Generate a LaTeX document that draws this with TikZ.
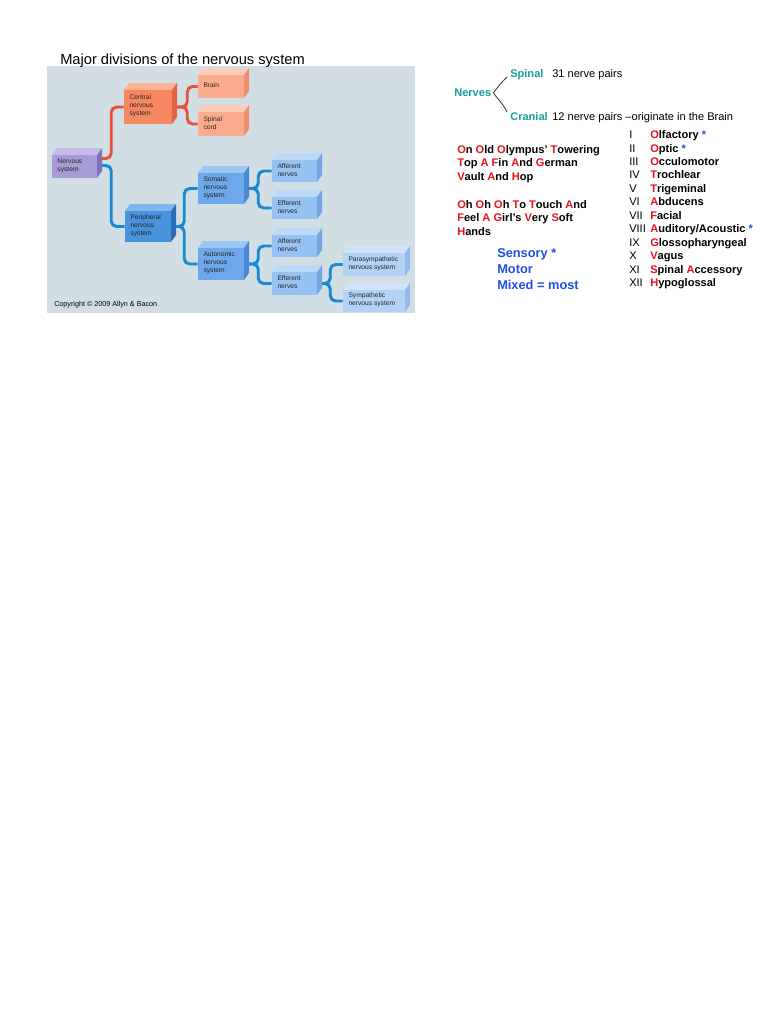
\documentclass[tikz,border=0pt]{standalone}
\usepackage{fontspec}
\setmainfont{Liberation Sans}
\usetikzlibrary{calc}
\pgfdeclarelayer{panel}
\pgfdeclarelayer{wires}
\pgfsetlayers{panel,wires,main}
\definecolor{panelbg}{RGB}{209,222,228}
\definecolor{redline}{RGB}{232,80,58}
\definecolor{blueline}{RGB}{24,136,214}
\definecolor{nvfront}{RGB}{168,156,214}\definecolor{nvtop}{RGB}{196,187,232}\definecolor{nvside}{RGB}{128,112,184}
\definecolor{cnfront}{RGB}{247,135,96}\definecolor{cntop}{RGB}{251,178,150}\definecolor{cnside}{RGB}{226,102,66}
\definecolor{brfront}{RGB}{251,172,142}\definecolor{brtop}{RGB}{253,204,184}\definecolor{brside}{RGB}{238,142,110}
\definecolor{pnfront}{RGB}{72,146,222}\definecolor{pntop}{RGB}{128,182,238}\definecolor{pnside}{RGB}{40,108,186}
\definecolor{sofront}{RGB}{108,168,234}\definecolor{sotop}{RGB}{156,198,244}\definecolor{soside}{RGB}{72,138,212}
\definecolor{affront}{RGB}{150,194,243}\definecolor{aftop}{RGB}{190,216,248}\definecolor{afside}{RGB}{116,166,226}
\definecolor{pafront}{RGB}{180,210,246}\definecolor{patop}{RGB}{208,227,250}\definecolor{paside}{RGB}{146,186,236}
\definecolor{tealtxt}{RGB}{26,158,158}
\definecolor{mnred}{RGB}{232,18,28}
\definecolor{mnblue}{RGB}{30,80,232}
\newcommand\R[1]{{\color{mnred}#1}}
\newcommand\B{{\color{mnblue}*}}
\newcommand\mycube[7]{%
  \fill[#6top] (#2,#3) -- (#2+5,#3-7) -- (#4+5,#3-7) -- (#4,#3) -- cycle;
  \fill[#6side] (#4,#3) -- (#4+5,#3-7) -- (#4+5,#5-7) -- (#4,#5) -- cycle;
  \node[face, fill=#6front, minimum width={(#4-#2)*0.75pt}, minimum height={(#5-#3)*0.75pt}] (#1) at ({(#2+#4)/2},{(#3+#5)/2}) {};
  \node[lbl] (#1-t) at ($(#1.west)+(5.5,-1)$) {#7};
}
\begin{document}
\begin{tikzpicture}[x=0.75pt,y=-0.75pt,
  face/.style={rectangle,draw=none,inner sep=0pt},
  lbl/.style={anchor=west,align=left,inner sep=0pt,text=black!85,font=\fontsize{5}{6}\selectfont},
  wire/.style={line width=2.2pt,rounded corners=4pt},
  redw/.style={wire,draw=redline},
  bluew/.style={wire,draw=blueline},
  txt/.style={anchor=base west,inner sep=0pt},
  bodytxt/.style={txt,font=\fontsize{8.3}{10}\selectfont},
  boldtxt/.style={txt,font=\fontsize{8.3}{10}\selectfont\bfseries},
  tealb/.style={boldtxt,text=tealtxt},
  bluetxt/.style={txt,font=\fontsize{9.6}{11}\selectfont\bfseries,text=mnblue},
  brace/.style={draw=black!80,line width=0.6pt}]
\useasboundingbox (0,0) rectangle (784,1015);
\begin{pgfonlayer}{panel}
\fill[white] (0,0) rectangle (784,1015);
\fill[panelbg] (47,66) rectangle (415,313);
\end{pgfonlayer}
\node[txt,font=\fontsize{11}{13}\selectfont] (title) at (60,64.3) {Major divisions of the nervous system};
\mycube{nerv}{52}{155}{97}{178}{nv}{Nervous\\system}
\mycube{cns}{124}{90}{172}{124}{cn}{Central\\nervous\\system}
\mycube{brain}{198}{75}{244}{98}{br}{Brain}
\mycube{spinal}{198}{112}{244}{136}{br}{Spinal\\cord}
\mycube{pns}{125}{211}{171}{242}{pn}{Peripheral\\nervous\\system}
\mycube{soma}{198}{173}{244}{204}{so}{Somatic\\nervous\\system}
\mycube{auto}{198}{248}{244}{280}{so}{Autonomic\\nervous\\system}
\mycube{aff1}{272}{160}{317}{182}{af}{Afferent\\nerves}
\mycube{eff1}{272}{197}{317}{219}{af}{Efferent\\nerves}
\mycube{aff2}{272}{235}{317}{257}{af}{Afferent\\nerves}
\mycube{eff2}{272}{272}{317}{295}{af}{Efferent\\nerves}
\mycube{para}{343}{253}{405}{276}{pa}{Parasympathetic\\nervous system}
\mycube{symp}{343}{290}{405}{312}{pa}{Sympathetic\\nervous system}
\node[txt,font=\fontsize{5.4}{6}\selectfont] (copy) at (54,306.5) {Copyright © 2009 Allyn \& Bacon};
\begin{pgfonlayer}{wires}
\draw[redw] ($(nerv.east)+(0,-8)$) -- ++(14,0) |- (cns.west);
\draw[bluew] ($(nerv.east)+(0,-1)$) -- ++(14,0) |- (pns.west);
\draw[redw] (cns.east) -- ++(15,0) |- (brain.west);
\draw[redw] (cns.east) -- ++(15,0) |- (spinal.west);
\draw[bluew] (pns.east) -- ++(13,0) |- (soma.west);
\draw[bluew] (pns.east) -- ++(13,0) |- (auto.west);
\draw[bluew] (soma.east) -- ++(14,0) |- (aff1.west);
\draw[bluew] (soma.east) -- ++(14,0) |- (eff1.west);
\draw[bluew] (auto.east) -- ++(14,0) |- (aff2.west);
\draw[bluew] (auto.east) -- ++(14,0) |- (eff2.west);
\draw[bluew] (eff2.east) -- ++(13,0) |- (para.west);
\draw[bluew] (eff2.east) -- ++(13,0) |- (symp.west);
\end{pgfonlayer}
% Nerves
\node[tealb] (nerves) at (454,96.7) {Nerves};
\node[tealb] (spinalw) at (510,77.5) {Spinal};
\node[bodytxt] (sp31) at (552,77.5) {31 nerve pairs};
\node[tealb] (cranw) at (510,120.5) {Cranial};
\node[bodytxt] (cr12) at (552,120.5) {12 nerve pairs –originate in the Brain};
\coordinate (spE) at (507,77);
\coordinate (crE) at (507,112);
\draw[brace] (spE) to[out=225,in=55] ($(nerves.east)+(2,0)$) to[out=-55,in=115] (crE);
% mnemonics
\node[boldtxt] (mn1) at (457,153) {\R{O}n \R{O}ld \R{O}lympus' \R{T}owering};
\node[boldtxt] (mn2) at (457,166.7) {\R{T}op \R{A} \R{F}in \R{A}nd \R{G}erman};
\node[boldtxt] (mn3) at (457,180.2) {\R{V}ault \R{A}nd \R{H}op};
\node[boldtxt] (mn4) at (457,208.4) {\R{O}h \R{O}h \R{O}h \R{T}o \R{T}ouch \R{A}nd};
\node[boldtxt] (mn5) at (457,221.8) {\R{F}eel \R{A} \R{G}irl’s \R{V}ery \R{S}oft};
\node[boldtxt] (mn6) at (457,235.8) {\R{H}ands};
\node[bluetxt] (sens) at (497,257) {Sensory *};
\node[bluetxt] (motor) at (497,273) {Motor};
\node[bluetxt] (mixed) at (497,289) {Mixed = most};
% cranial nerves
\node[bodytxt] (c1) at (629,138.5) {I};
\node[bodytxt] (c2) at (629,152) {II};
\node[bodytxt] (c3) at (629,165.4) {III};
\node[bodytxt] (c4) at (629,178.9) {IV};
\node[bodytxt] (c5) at (629,192.3) {V};
\node[bodytxt] (c6) at (629,205.8) {VI};
\node[bodytxt] (c7) at (629,219.2) {VII};
\node[bodytxt] (c8) at (629,232.7) {VIII};
\node[bodytxt] (c9) at (629,246.1) {IX};
\node[bodytxt] (c10) at (629,259.6) {X};
\node[bodytxt] (c11) at (629,273) {XI};
\node[bodytxt] (c12) at (629,286.5) {XII};
\node[boldtxt] (n1) at (650,138.5) {\R{O}lfactory \B};
\node[boldtxt] (n2) at (650,152) {\R{O}ptic \B};
\node[boldtxt] (n3) at (650,165.4) {\R{O}cculomotor};
\node[boldtxt] (n4) at (650,178.9) {\R{T}rochlear};
\node[boldtxt] (n5) at (650,192.3) {\R{T}rigeminal};
\node[boldtxt] (n6) at (650,205.8) {\R{A}bducens};
\node[boldtxt] (n7) at (650,219.2) {\R{F}acial};
\node[boldtxt] (n8) at (650,232.7) {\R{A}uditory/Acoustic \B};
\node[boldtxt] (n9) at (650,246.1) {\R{G}lossopharyngeal};
\node[boldtxt] (n10) at (650,259.6) {\R{V}agus};
\node[boldtxt] (n11) at (650,273) {\R{S}pinal \R{A}ccessory};
\node[boldtxt] (n12) at (650,286.5) {\R{H}ypoglossal};
\end{tikzpicture}
\end{document}
